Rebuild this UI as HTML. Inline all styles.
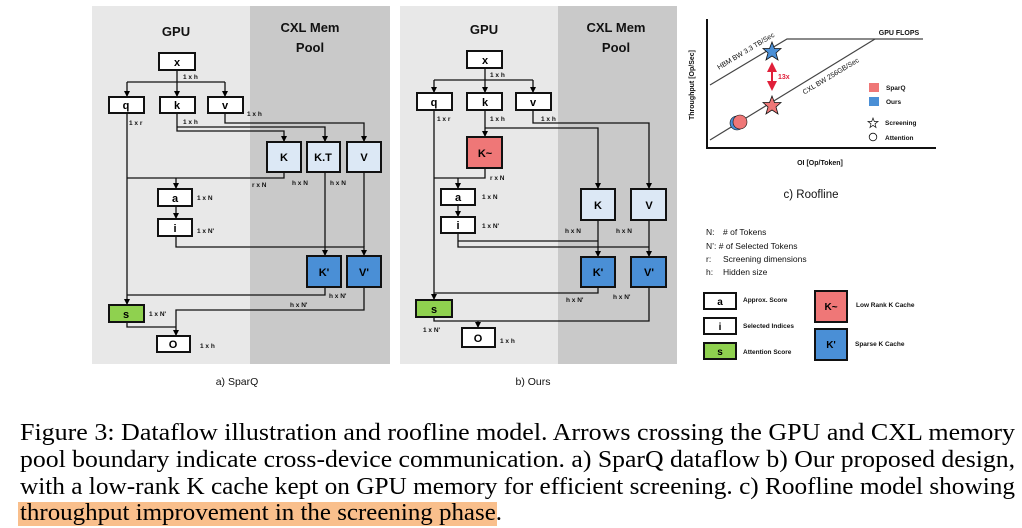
<!DOCTYPE html>
<html><head><meta charset="utf-8"><style>
html,body{margin:0;padding:0;background:#fff;}
svg{display:block;}
.n{font-family:"Liberation Sans",sans-serif;font-weight:bold;font-size:11px;text-anchor:middle;}
.l{font-family:"Liberation Sans",sans-serif;font-weight:bold;font-size:6.5px;fill:#111;}
.t{font-family:"Liberation Sans",sans-serif;font-weight:bold;font-size:13px;text-anchor:middle;fill:#111;}
.s{font-family:"Liberation Sans",sans-serif;font-size:9px;fill:#111;}
.sb{font-family:"Liberation Sans",sans-serif;font-weight:bold;font-size:6.5px;fill:#111;}
.cap{font-family:"Liberation Serif",serif;font-size:24px;fill:#000;}
</style></head><body>
<svg width="1022" height="528" viewBox="0 0 1022 528" xmlns="http://www.w3.org/2000/svg">
<defs>
<marker id="ar" markerWidth="6" markerHeight="6" refX="5" refY="3" orient="auto" markerUnits="userSpaceOnUse">
<path d="M0,0 L6,3 L0,6 z" fill="#000"/></marker>
<marker id="ra" markerWidth="10" markerHeight="10" refX="8" refY="5" orient="auto" markerUnits="userSpaceOnUse">
<path d="M0,0 L10,5 L0,10 z" fill="#e0203a"/></marker>
</defs>

<!-- Panel a -->
<rect x="92" y="6" width="158" height="358" fill="#e8e8e8"/>
<rect x="250" y="6" width="140" height="358" fill="#c9c9c9"/>
<text class="t" x="176" y="36">GPU</text>
<text class="t" x="310" y="32">CXL Mem</text>
<text class="t" x="310" y="52">Pool</text>
<g fill="none" stroke="#111" stroke-width="1.3">
<path d="M177,70 V96" marker-end="url(#ar)"/>
<path d="M127,82 H225"/>
<path d="M127,82 V96" marker-end="url(#ar)"/>
<path d="M225,82 V96" marker-end="url(#ar)"/>
<path d="M177,113 V131 H284 V141" marker-end="url(#ar)"/>
<path d="M177,127 H325 V141" marker-end="url(#ar)"/>
<path d="M225,113 V123 H364 V141" marker-end="url(#ar)"/>
<path d="M127,113 V304" marker-end="url(#ar)"/>
<path d="M284,172 V178 H127"/>
<path d="M176,178 V188" marker-end="url(#ar)"/>
<path d="M176,206 V218" marker-end="url(#ar)"/>
<path d="M325,172 V255" marker-end="url(#ar)"/>
<path d="M176,236 V247 H364 V255" marker-end="url(#ar)"/>
<path d="M364,172 V247"/>
<path d="M325,287 V295 H127"/>
<path d="M364,287 V310 H176 V335" marker-end="url(#ar)"/>
<path d="M127,322 V327 H176"/>
</g>
<g stroke="#111" stroke-width="2">
<rect x="159" y="53" width="36" height="17" fill="#fff"/>
<rect x="109" y="97" width="35" height="16" fill="#fff"/>
<rect x="160" y="97" width="35" height="16" fill="#fff"/>
<rect x="208" y="97" width="35" height="16" fill="#fff"/>
<rect x="267" y="142" width="34" height="30" fill="#dce8f5"/>
<rect x="307" y="142" width="33" height="30" fill="#dce8f5"/>
<rect x="347" y="142" width="34" height="30" fill="#dce8f5"/>
<rect x="158" y="189" width="34" height="17" fill="#fff"/>
<rect x="158" y="219" width="34" height="17" fill="#fff"/>
<rect x="307" y="256" width="34" height="31" fill="#4a8fd6"/>
<rect x="347" y="256" width="34" height="31" fill="#4a8fd6"/>
<rect x="109" y="305" width="35" height="17" fill="#8fd14f"/>
<rect x="157" y="336" width="33" height="16" fill="#fff"/>
</g>
<g class="n">
<text x="177" y="66">x</text><text x="126" y="109">q</text><text x="177" y="109">k</text><text x="225" y="109">v</text>
<text x="284" y="161">K</text><text x="323" y="161">K.T</text><text x="364" y="161">V</text>
<text x="175" y="202">a</text><text x="175" y="232">i</text>
<text x="324" y="276">K'</text><text x="364" y="276">V'</text>
<text x="126" y="318">s</text><text x="173" y="348">O</text>
</g>
<g class="l">
<text x="183" y="79">1 x h</text><text x="247" y="116">1 x h</text><text x="129" y="125">1 x r</text><text x="183" y="124">1 x h</text>
<text x="252" y="187">r x N</text><text x="292" y="185">h x N</text><text x="330" y="185">h x N</text>
<text x="197" y="200">1 x N</text><text x="197" y="233">1 x N'</text>
<text x="329" y="298">h x N'</text><text x="290" y="307">h x N'</text><text x="149" y="316">1 x N'</text><text x="200" y="348">1 x h</text>
</g>
<text class="s" x="237" y="385" text-anchor="middle" style="font-size:10.5px">a) SparQ</text>

<!-- Panel b -->
<rect x="400" y="6" width="158" height="358" fill="#e8e8e8"/>
<rect x="558" y="6" width="119" height="358" fill="#c9c9c9"/>
<text class="t" x="484" y="34">GPU</text>
<text class="t" x="616" y="32">CXL Mem</text>
<text class="t" x="616" y="52">Pool</text>
<g fill="none" stroke="#111" stroke-width="1.3">
<path d="M485,68 V92" marker-end="url(#ar)"/>
<path d="M434,80 H533"/>
<path d="M434,80 V92" marker-end="url(#ar)"/>
<path d="M533,80 V92" marker-end="url(#ar)"/>
<path d="M485,110 V136" marker-end="url(#ar)"/>
<path d="M485,128 H598 V188" marker-end="url(#ar)"/>
<path d="M533,110 V123 H649 V188" marker-end="url(#ar)"/>
<path d="M434,110 V299" marker-end="url(#ar)"/>
<path d="M485,168 V178 H434"/>
<path d="M458,178 V188" marker-end="url(#ar)"/>
<path d="M458,205 V216" marker-end="url(#ar)"/>
<path d="M458,233 V247 H649"/>
<path d="M458,241 H598"/>
<path d="M598,220 V256" marker-end="url(#ar)"/>
<path d="M649,220 V256" marker-end="url(#ar)"/>
<path d="M598,287 V293 H434"/>
<path d="M434,317 V321 H649 V287"/>
<path d="M478,321 V327" marker-end="url(#ar)"/>
</g>
<g stroke="#111" stroke-width="2">
<rect x="467" y="51" width="35" height="17" fill="#fff"/>
<rect x="417" y="93" width="35" height="17" fill="#fff"/>
<rect x="467" y="93" width="35" height="17" fill="#fff"/>
<rect x="516" y="93" width="35" height="17" fill="#fff"/>
<rect x="467" y="137" width="35" height="31" fill="#ef7777"/>
<rect x="441" y="189" width="34" height="16" fill="#fff"/>
<rect x="441" y="217" width="34" height="16" fill="#fff"/>
<rect x="581" y="189" width="34" height="31" fill="#dce8f5"/>
<rect x="631" y="189" width="35" height="31" fill="#dce8f5"/>
<rect x="581" y="257" width="34" height="30" fill="#4a8fd6"/>
<rect x="631" y="257" width="35" height="30" fill="#4a8fd6"/>
<rect x="416" y="300" width="36" height="17" fill="#8fd14f"/>
<rect x="462" y="328" width="33" height="19" fill="#fff"/>
</g>
<g class="n">
<text x="485" y="64">x</text><text x="434" y="106">q</text><text x="485" y="106">k</text><text x="533" y="106">v</text>
<text x="485" y="157">K~</text>
<text x="458" y="201">a</text><text x="458" y="229">i</text>
<text x="598" y="209">K</text><text x="649" y="209">V</text>
<text x="598" y="276">K'</text><text x="649" y="276">V'</text>
<text x="434" y="313">s</text><text x="478" y="342">O</text>
</g>
<g class="l">
<text x="490" y="77">1 x h</text><text x="437" y="121">1 x r</text><text x="490" y="121">1 x h</text><text x="541" y="121">1 x h</text>
<text x="490" y="180">r x N</text><text x="482" y="199">1 x N</text><text x="482" y="228">1 x N'</text>
<text x="565" y="233">h x N</text><text x="616" y="233">h x N</text>
<text x="566" y="302">h x N'</text><text x="613" y="299">h x N'</text>
<text x="423" y="332">1 x N'</text><text x="500" y="343">1 x h</text>
</g>
<text class="s" x="533" y="385" text-anchor="middle" style="font-size:10.5px">b) Ours</text>

<!-- Roofline -->
<g fill="none" stroke="#111">
<path d="M707,19 V148 H936" stroke-width="2"/>
<path d="M710,85 L787,39 H923" stroke="#444" stroke-width="1.2"/>
<path d="M710,140 L875,39" stroke="#444" stroke-width="1.2"/>
</g>
<text class="sb" x="694" y="85" transform="rotate(-90 694 85)" text-anchor="middle" style="font-size:7px">Throughput [Op/Sec]</text>
<text class="sb" x="899" y="35" text-anchor="middle" style="font-size:7px">GPU FLOPS</text>
<text class="s" x="747" y="53" transform="rotate(-31 747 53)" text-anchor="middle" style="font-size:7px">HBM BW 3.3 TB/Sec</text>
<text class="s" x="832" y="78" transform="rotate(-31 832 78)" text-anchor="middle" style="font-size:7px">CXL BW 256GB/Sec</text>
<polygon points="772,42 774.5,48.5 781,48.5 776,53 778,60 772,56 766,60 768,53 763,48.5 769.5,48.5" fill="#4a8fd6" stroke="#111" stroke-width="0.8"/>
<polygon points="772,96 774.5,102.5 781,102.5 776,107 778,114 772,110 766,114 768,107 763,102.5 769.5,102.5" fill="#ef7777" stroke="#111" stroke-width="0.8"/>
<line x1="772" y1="78" x2="772" y2="64" stroke="#e0203a" stroke-width="2" marker-end="url(#ra)"/>
<line x1="772" y1="76" x2="772" y2="89" stroke="#e0203a" stroke-width="2" marker-end="url(#ra)"/>
<text x="778" y="79" style="font-family:'Liberation Sans',sans-serif;font-weight:bold;font-size:7px;fill:#e0203a">13x</text>
<circle cx="737" cy="123" r="7" fill="#4a8fd6" stroke="#111" stroke-width="0.6"/>
<circle cx="740" cy="122" r="7" fill="#ef7777" stroke="#111" stroke-width="0.6"/>
<rect x="869" y="83" width="10" height="9" fill="#ef7777"/>
<text class="sb" x="886" y="90">SparQ</text>
<rect x="869" y="97" width="10" height="9" fill="#4a8fd6"/>
<text class="sb" x="886" y="104">Ours</text>
<polygon points="873,118 874.3,121.5 878,121.5 875,123.8 876,127.5 873,125.3 870,127.5 871,123.8 868,121.5 871.7,121.5" fill="#fff" stroke="#111" stroke-width="0.7"/>
<text class="sb" x="885" y="125">Screening</text>
<circle cx="873" cy="137" r="3.8" fill="#fff" stroke="#111" stroke-width="0.8"/>
<text class="sb" x="885" y="140">Attention</text>
<text class="sb" x="820" y="165" text-anchor="middle" style="font-size:7px">OI [Op/Token]</text>
<text class="s" x="811" y="198" text-anchor="middle" style="font-size:11.5px">c) Roofline</text>

<g class="s" style="font-size:8.5px">
<text x="706" y="235">N:</text><text x="723" y="235"># of Tokens</text>
<text x="706" y="249">N’: # of Selected Tokens</text>
<text x="706" y="262">r:</text><text x="723" y="262">Screening dimensions</text>
<text x="706" y="275">h:</text><text x="723" y="275">Hidden size</text>
</g>
<g stroke="#111" stroke-width="2">
<rect x="704" y="293" width="32" height="16" fill="#fff"/>
<rect x="704" y="318" width="32" height="16" fill="#fff"/>
<rect x="704" y="343" width="32" height="16" fill="#8fd14f"/>
<rect x="815" y="291" width="32" height="31" fill="#ef7777"/>
<rect x="815" y="329" width="32" height="31" fill="#4a8fd6"/>
</g>
<g class="n" style="font-size:10px">
<text x="720" y="305">a</text><text x="720" y="330">i</text><text x="720" y="355">s</text>
<text x="831" y="310">K~</text><text x="831" y="348">K'</text>
</g>
<g class="sb">
<text x="743" y="302">Approx. Score</text>
<text x="743" y="328">Selected Indices</text>
<text x="743" y="354">Attention Score</text>
<text x="856" y="307">Low Rank K Cache</text>
<text x="855" y="346">Sparse K Cache</text>
</g>

<!-- Caption -->
<rect x="18" y="502" width="479" height="24" fill="#f9bf8c"/>
<text class="cap" x="20" y="440" textLength="995" lengthAdjust="spacingAndGlyphs">Figure 3: Dataflow illustration and roofline model.  Arrows crossing the GPU and CXL memory</text>
<text class="cap" x="20" y="467" textLength="995" lengthAdjust="spacingAndGlyphs">pool boundary indicate cross-device communication.  a) SparQ dataflow b) Our proposed design,</text>
<text class="cap" x="20" y="494" textLength="995" lengthAdjust="spacingAndGlyphs">with a low-rank K cache kept on GPU memory for efficient screening. c) Roofline model showing</text>
<text class="cap" x="20" y="520" textLength="482" lengthAdjust="spacingAndGlyphs">throughput improvement in the screening phase.</text>
</svg>
</body></html>
